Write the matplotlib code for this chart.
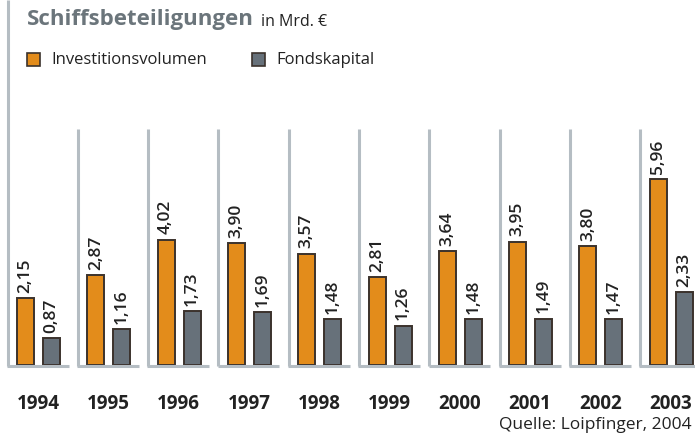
import matplotlib.pyplot as plt
from matplotlib.patches import Rectangle

years = ['1994', '1995', '1996', '1997', '1998', '1999', '2000', '2001', '2002', '2003']
investitionsvolumen = [2.15, 2.87, 4.02, 3.90, 3.57, 2.81, 3.64, 3.95, 3.80, 5.96]
fondskapital = [0.87, 1.16, 1.73, 1.69, 1.48, 1.26, 1.48, 1.49, 1.47, 2.33]
value_labels_inv = ['2,15', '2,87', '4,02', '3,90', '3,57', '2,81', '3,64', '3,95', '3,80', '5,96']
value_labels_fond = ['0,87', '1,16', '1,73', '1,69', '1,48', '1,26', '1,48', '1,49', '1,47', '2,33']

ORANGE = '#e38c1b'
GREY = '#67717a'
EDGE = '#3b322c'
FRAME = '#b5bdc3'
TITLE_GREY = '#6b757b'

plt.rcParams['font.family'] = ['Open Sans', 'DejaVu Sans']

W, H = 695, 436
fig = plt.figure(figsize=(W / 100, H / 100), dpi=100)

# axes: bottom at baseline pixel 365 (from top), full width
base_px = 365
px_per_unit = 31.2
panel_px = 70.3
left_px = 7.5
ax = fig.add_axes([0, (H - base_px) / H, 1, base_px / H])
ax.set_xlim(-left_px / panel_px, (W - left_px) / panel_px)
ax.set_ylim(0, base_px / px_per_unit)
ax.axis('off')

bar_w = 17 / panel_px
off_inv = 18 / panel_px
off_fond = 44 / panel_px
panel_w = 61 / panel_px
panel_top = (base_px - 129) / px_per_unit
lw = 2.2

for i, year in enumerate(years):
    top = base_px / px_per_unit if i == 0 else panel_top
    ax.plot([i, i], [-0.02, top], color=FRAME, lw=lw, solid_capstyle='butt', clip_on=False)
    ax.plot([i - 0.01, i + panel_w], [-0.02, -0.02], color=FRAME, lw=lw,
            solid_capstyle='butt', clip_on=False)

    ax.bar(i + off_inv, investitionsvolumen[i], width=bar_w, color=ORANGE,
           edgecolor=EDGE, linewidth=1.4)
    ax.bar(i + off_fond, fondskapital[i], width=bar_w, color=GREY,
           edgecolor=EDGE, linewidth=1.4)

    ax.text(i + off_inv, investitionsvolumen[i] + 0.17, value_labels_inv[i], rotation=90,
            ha='center', va='bottom', fontsize=12.5, fontweight='semibold', color='#222222')
    ax.text(i + off_fond, fondskapital[i] + 0.17, value_labels_fond[i], rotation=90,
            ha='center', va='bottom', fontsize=12.5, fontweight='semibold', color='#222222')

    fig.text((left_px + i * panel_px + 30.5) / W, 1 - 404 / H, year, ha='center', va='center',
             fontsize=13.5, fontweight='bold', color='#222222')

# title
fig.text(27 / W, 1 - 20 / H, 'Schiffsbeteiligungen', ha='left', va='center',
         fontsize=16, fontweight='bold', color=TITLE_GREY)
fig.text(261 / W, 1 - 22 / H, 'in Mrd. €', ha='left', va='center', fontsize=11.5, color='#222222')

# legend
for x0, col, label in [(27, ORANGE, 'Investitionsvolumen'), (252, GREY, 'Fondskapital')]:
    fig.patches.append(Rectangle((x0 / W, 1 - 66 / H), 13 / W, 13 / H, transform=fig.transFigure,
                                 facecolor=col, edgecolor=EDGE, linewidth=1.2))
    fig.text((x0 + 24) / W, 1 - 60 / H, label, ha='left', va='center', fontsize=12, color='#222222')

fig.text(692 / W, 1 - 425 / H, 'Quelle: Loipfinger, 2004', ha='right', va='center',
         fontsize=12.5, color='#222222')

fig.savefig('out.png', dpi=100)
